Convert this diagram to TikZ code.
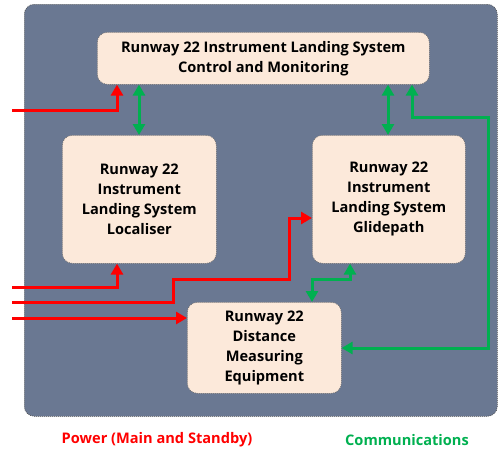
\documentclass[tikz,border=0pt]{standalone}
\usepackage{fontspec}
\setmainfont{Open Sans}
\usetikzlibrary{arrows.meta}
\definecolor{bgblue}{HTML}{6A7892}
\definecolor{peach}{HTML}{FCE9DA}
\definecolor{pwr}{HTML}{FF0000}
\definecolor{comm}{HTML}{00B050}
\tikzset{
  panel/.style={draw=black!70, dash pattern=on 1pt off 1pt, line width=0.6pt, fill=bgblue, rounded corners=10pt},
  unit/.style={draw=black!60, dash pattern=on 1pt off 1pt, line width=0.6pt, fill=peach, rounded corners=10pt, align=center, font=\fontsize{14.6}{20}\selectfont\bfseries, inner sep=0pt},
  pline/.style={draw=pwr, line width=3pt, -{Triangle[length=11pt,width=12pt]}},
  cboth/.style={draw=comm, line width=3pt, {Triangle[length=11pt,width=12pt]}-{Triangle[length=11pt,width=12pt]}},
}
\begin{document}
\begin{tikzpicture}[x=1pt,y=-1pt]
\useasboundingbox (0,0) rectangle (498,455);
\node[panel, minimum width=473pt, minimum height=412pt, anchor=north west] (bg) at (24,4) {};
\node[unit, minimum width=332pt, minimum height=52pt, anchor=north west] (ctl) at (97,32) {Runway 22 Instrument Landing System\\Control and Monitoring};
\node[unit, minimum width=154pt, minimum height=128pt, anchor=north west] (loc) at (62,135) {Runway 22\\Instrument\\Landing System\\Localiser};
\node[unit, minimum width=153pt, minimum height=128pt, anchor=north west] (gp) at (312,135) {Runway 22\\Instrument\\Landing System\\Glidepath};
\node[unit, minimum width=154pt, minimum height=91pt, anchor=north west] (dme) at (187,302) {Runway 22\\Distance\\Measuring\\Equipment};
\coordinate (p1) at (12,110);
\coordinate (p2) at (12,287);
\coordinate (p3) at (12,302);
\coordinate (p4) at (12,318);
\coordinate (cr) at (488,117);
% power
\draw[pline] (p1) -| (ctl.south -| 117,0);
\draw[pline] (p2) -| (loc.south -| 117,0);
\draw[pline] (p3) -- (173,302) -- (173,279) -- (289,279) |- (gp.west |- 0,218);
\draw[pline] (p4) -- (dme.west |- p4);
% comms
\draw[cboth] (ctl.south -| 139,0) -- (loc.north -| 139,0);
\draw[cboth] (ctl.south -| 388,0) -- (gp.north -| 388,0);
\draw[cboth] (gp.south -| 350,0) -- (350,279) -| (dme.north -| 312,0);
\draw[cboth] (dme.east |- 0,348) -| (cr) -| (ctl.south -| 412,0);
\node[text=pwr, font=\fontsize{14.6}{17}\selectfont\bfseries] (lp) at (157,440) {Power (Main and Standby)};
\node[text=comm, font=\fontsize{14.6}{17}\selectfont\bfseries] (lc) at (407,440) {Communications};
\end{tikzpicture}
\end{document}
